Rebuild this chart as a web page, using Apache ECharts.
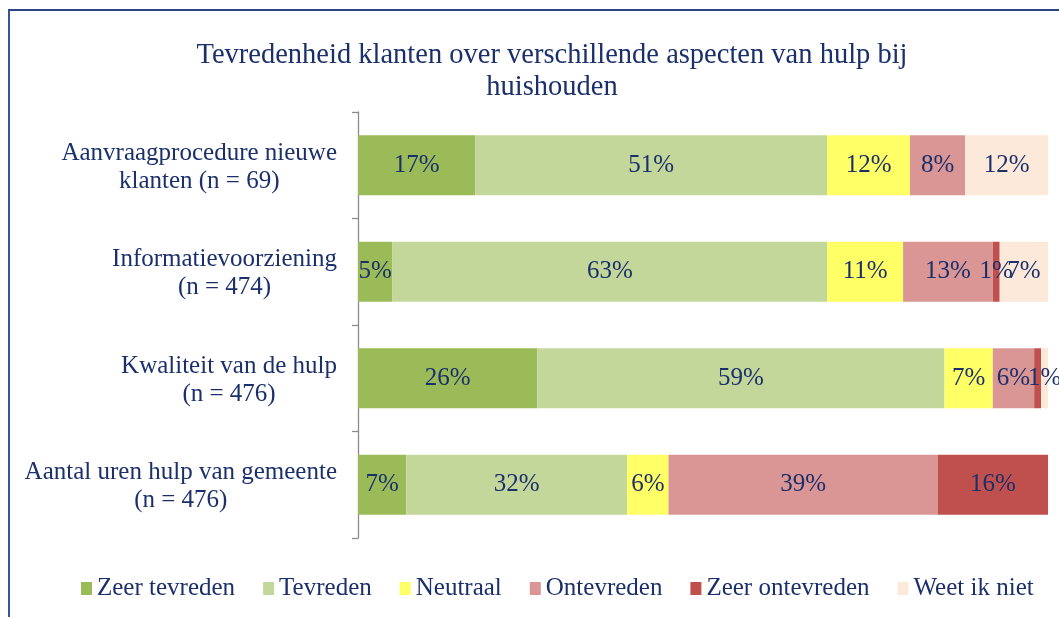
<!DOCTYPE html>
<html>
<head>
<meta charset="utf-8">
<script src="https://cdn.jsdelivr.net/npm/echarts@6/dist/echarts.min.js"></script>
<style>
html,body{margin:0;padding:0;background:#fff;}
#frame{position:absolute;left:8px;top:9px;width:1060px;height:620px;border-left:2px solid #3A5393;border-top:2px solid #2C4580;}
#chart{position:absolute;left:0;top:0;width:1059px;height:617px;}
</style>
</head>
<body>
<div id="frame"></div>
<div id="chart"></div>
<script>
const titleText = 'Tevredenheid klanten over verschillende aspecten van hulp bij\nhuishouden';
const categories = [
  ['Aanvraagprocedure nieuwe', 'klanten (n = 69)'],
  ['Informatievoorziening', '(n = 474)'],
  ['Kwaliteit van de hulp', '(n = 476)'],
  ['Aantal uren hulp van gemeente', '(n = 476)']
];
const seriesNames = ['Zeer tevreden', 'Tevreden', 'Neutraal', 'Ontevreden', 'Zeer ontevreden', 'Weet ik niet'];
const zeerTevreden   = [17, 5, 26, 7];
const tevreden       = [51, 63, 59, 32];
const neutraal       = [12, 11, 7, 6];
const ontevreden     = [8, 13, 6, 39];
const zeerOntevreden = [0, 1, 1, 16];
const weetIkNiet     = [12, 7, 1, 0];
const colors = ['#9BBB59', '#C4D79B', '#FFFF66', '#D99694', '#C0504D', '#FDE9D9'];
// labels that the original does not show (series index, category index)
const hiddenLabels = [[4, 2]];

const seriesValues = [zeerTevreden, tevreden, neutraal, ontevreden, zeerOntevreden, weetIkNiet];
const textColor = '#1B2F6B';
const font = 'Liberation Serif';

const chart = echarts.init(document.getElementById('chart'), null, {renderer: 'canvas'});
chart.setOption({
  animation: false,
  title: {
    text: titleText,
    left: 547,
    top: 35,
    textAlign: 'center',
    textStyle: {fontFamily: font, fontSize: 28.5, fontWeight: 'normal', color: textColor, lineHeight: 32}
  },
  legend: {
    bottom: 11,
    left: 76,
    itemWidth: 11,
    itemHeight: 13,
    itemGap: 28,
    icon: 'rect',
    textStyle: {fontFamily: font, fontSize: 25, color: textColor},
    data: seriesNames
  },
  grid: {left: 358, right: 11, top: 112, bottom: 79, containLabel: false},
  xAxis: {
    type: 'value', min: 0, max: 100, show: false
  },
  yAxis: {
    type: 'category',
    inverse: true,
    data: categories.map(c => c.join('\n')),
    axisLine: {show: true, lineStyle: {color: '#8C8C8C', width: 1.3}},
    axisTick: {show: true, length: 6, lineStyle: {color: '#8C8C8C', width: 1.3}},
    axisLabel: {
      margin: 21,
      padding: [4, 0, 0, 0],
      formatter: v => v.split('\n').map(l => '{c|' + l + '}').join('\n'),
      rich: {c: {align: 'center', fontFamily: font, fontSize: 25, color: textColor, lineHeight: 28}}
    }
  },
  series: seriesNames.map((name, i) => ({
    name: name,
    type: 'bar',
    stack: 'total',
    barWidth: 60,
    itemStyle: {color: colors[i]},
    label: {
      show: true,
      position: 'inside',
      fontFamily: font,
      fontSize: 25,
      color: textColor,
      formatter: p => (p.value > 0 && !hiddenLabels.some(h => h[0] === i && h[1] === p.dataIndex)) ? p.value + '%' : ''
    },
    data: seriesValues[i]
  }))
});
</script>
</body>
</html>
